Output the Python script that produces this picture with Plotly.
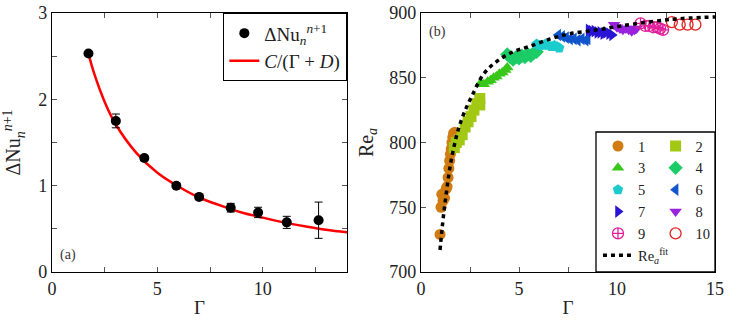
import plotly.graph_objects as go
from plotly.subplots import make_subplots

# ---- panel (a) data ----
gam_a = [1.73, 3.03, 4.38, 5.9, 6.98, 8.48, 9.78, 11.14, 12.65]
dnu = [2.53, 1.75, 1.32, 1.0, 0.87, 0.745, 0.69, 0.575, 0.60]
dnu_err = [0.02, 0.08, 0.03, 0.02, 0.02, 0.05, 0.06, 0.07, 0.21]

# fitted curve C/(Gamma + D)
fit_a_x = [1.73, 2.0, 2.5, 3.0, 4.0, 5.0, 6.0, 7.0, 8.0, 9.0, 10.0, 11.0, 12.0, 13.0, 14.0]
fit_a_y = [2.53, 2.30, 1.97, 1.72, 1.38, 1.15, 0.99, 0.86, 0.77, 0.69, 0.63, 0.575, 0.53, 0.49, 0.46]

# ---- panel (b) data ----
g1 = [0.97, 1.02, 1.06, 1.12, 1.2, 1.28, 1.33, 1.38, 1.42, 1.46, 1.5, 1.54, 1.58, 1.62, 1.66, 1.72, 1.8]
r1 = [729, 750, 760, 755, 757, 764, 766, 773, 780, 786, 791, 795, 800, 804, 807, 808, 806]
g2 = [1.7, 1.8, 1.95, 2.1, 2.25, 2.4, 2.55, 2.7, 2.85, 3.0, 3.0]
r2 = [796, 800, 802, 806, 812, 816, 820, 825, 830, 834, 829]
g3 = [3.05, 3.2, 3.4, 3.55, 3.7, 3.85, 4.0, 4.15, 4.3, 4.4]
r3 = [846, 845, 847, 848, 850, 851, 853, 854, 856, 858]
g4 = [4.4, 4.55, 4.7, 4.85, 5.0, 5.15, 5.3, 5.45, 5.6, 5.75, 5.9]
r4 = [868, 866, 864, 866, 865, 867, 866, 868, 867, 869, 870]
g5 = [5.9, 6.05, 6.2, 6.35, 6.5, 6.65, 6.8, 6.95, 7.05]
r5 = [876, 875, 875, 876, 875, 874, 875, 874, 873]
g6 = [7.0, 7.2, 7.4, 7.6, 7.8, 8.0, 8.2, 8.4, 8.5]
r6 = [883, 882, 881, 880, 880, 879, 880, 879, 880]
g7 = [8.55, 8.7, 8.85, 9.0, 9.15, 9.3, 9.45, 9.6, 9.75]
r7 = [887, 886, 886, 885, 885, 884, 885, 884, 883]
g8 = [9.85, 10.0, 10.15, 10.3, 10.45, 10.6, 10.75, 10.9, 11.0]
r8 = [891, 889, 888, 887, 888, 887, 886, 887, 888]
g9 = [11.2, 11.45, 11.65, 11.85, 12.05, 12.2, 12.35]
r9 = [892, 890, 890, 889, 889, 888, 887]
g10 = [12.8, 13.2, 13.6, 14.0]
r10 = [893, 891, 891, 891]

fit_b_x = [0.97, 1.05, 1.15, 1.3, 1.5, 1.7, 1.9, 2.2, 2.6, 3.2, 3.9, 4.7, 5.5, 6.6, 7.6, 9.0, 10.2, 12.7, 15]
fit_b_y = [717, 730, 744, 762, 783, 798, 810, 823, 836, 853, 863, 870, 874, 880, 884, 887, 890, 895, 897]

series_b = [
    ("1", g1, r1, "circle", "#d07c12"),
    ("2", g2, r2, "square", "#a3c814"),
    ("3", g3, r3, "triangle-up", "#38c61a"),
    ("4", g4, r4, "diamond", "#1ccc66"),
    ("5", g5, r5, "pentagon", "#1ccccc"),
    ("6", g6, r6, "triangle-left", "#1155cc"),
    ("7", g7, r7, "triangle-right", "#2a14d4"),
    ("8", g8, r8, "triangle-down", "#9922dd"),
    ("9", g9, r9, "circle-cross-open", "#e0209a"),
    ("10", g10, r10, "circle-open", "#e52222"),
]

FONT = "Liberation Serif"

fig = make_subplots(rows=1, cols=2, horizontal_spacing=0.11)

fig.add_trace(go.Scatter(x=fit_a_x, y=fit_a_y, mode="lines", line_shape="spline",
                         line=dict(color="#ff0000", width=2.5), legendrank=2,
                         name="<i>C</i>/(Γ + <i>D</i>)", legend="legend"),
              row=1, col=1)
fig.add_trace(go.Scatter(x=gam_a, y=dnu, mode="markers", legendrank=1,
                         marker=dict(color="black", size=10),
                         error_y=dict(type="data", array=dnu_err, color="black", thickness=1, width=4),
                         name="ΔNu<sub><i>n</i></sub><sup><i>n</i>+1</sup>", legend="legend"),
              row=1, col=1)

# two legend columns: odd entries left, even entries right
for i, (name, gx, ry, sym, col) in enumerate(series_b):
    open_sym = sym.endswith("open")
    fig.add_trace(go.Scatter(x=gx, y=ry, mode="markers", name=name,
                             legend="legend2" if i % 2 == 0 else "legend3",
                             marker=dict(symbol=sym, size=11, color=col,
                                         line=dict(color=col, width=1.3 if open_sym else 0))),
                  row=1, col=2)

fig.add_trace(go.Scatter(x=fit_b_x, y=fit_b_y, mode="lines", line_shape="spline",
                         line=dict(color="black", width=3.5, dash="4px,4px"),
                         name="Re<sub><i>a</i></sub><sup>fit</sup>", legend="legend2"),
              row=1, col=2)

axis_common = dict(showline=True, linecolor="black", linewidth=1.3, mirror="allticks",
                   ticks="inside", ticklen=5, tickcolor="#555", showgrid=False, zeroline=False,
                   automargin=False,
                   tickfont=dict(family=FONT, size=18, color="#222"))

fig.update_xaxes(axis_common)
fig.update_yaxes(axis_common)

minor_t = dict(ticks="inside", ticklen=5, tickcolor="#555")
fig.update_xaxes(range=[0, 14], tickvals=[0, 5, 10], minor=dict(dtick=2.5, **minor_t),
                 title=dict(text="Γ", font=dict(family=FONT, size=19), standoff=2), row=1, col=1)
fig.update_yaxes(range=[0, 3], tickvals=[0, 1, 2, 3], minor=dict(dtick=0.5, **minor_t),
                 title=dict(text="ΔNu<sub><i>n</i></sub><sup><i>n</i>+1</sup>", font=dict(family=FONT, size=20), standoff=14),
                 row=1, col=1)
fig.update_xaxes(range=[0, 15], tickvals=[0, 5, 10, 15], minor=dict(dtick=2.5, **minor_t),
                 title=dict(text="Γ", font=dict(family=FONT, size=19), standoff=2), row=1, col=2)
fig.update_yaxes(range=[700, 900], tickvals=[700, 750, 800, 850, 900],
                 title=dict(text="Re<sub><i>a</i></sub>", font=dict(family=FONT, size=20), standoff=10),
                 row=1, col=2)

leg_common = dict(bgcolor="rgba(0,0,0,0)", borderwidth=0, font=dict(family=FONT, size=14.5),
                  itemwidth=30, traceorder="normal", tracegroupgap=0)

fig.update_layout(
    width=731, height=320,
    margin=dict(l=52, r=16, t=13, b=48),
    plot_bgcolor="white", paper_bgcolor="white",
    font=dict(family=FONT, size=16, color="#222"),
    xaxis=dict(domain=[0, 0.445]),
    xaxis2=dict(domain=[0.5566, 1]),
    legend=dict(x=0.445, y=1.0, xanchor="right", yanchor="top", bordercolor="black", borderwidth=1.3,
                bgcolor="white", font=dict(family=FONT, size=19), tracegroupgap=0,
                itemwidth=30, traceorder="normal"),
    legend2=dict(x=0.8235, y=0.548, xanchor="left", yanchor="top", **leg_common),
    legend3=dict(x=0.9104, y=0.548, xanchor="left", yanchor="top", **leg_common),
    shapes=[dict(type="rect", xref="paper", yref="paper", x0=0.8205, x1=1.0, y0=0.0, y1=0.5405,
                 line=dict(color="black", width=1.3), fillcolor="white", layer="above")],
    annotations=[
        dict(text="(a)", xref="x", yref="y", x=0.3, y=0.2, xanchor="left", yanchor="middle",
             showarrow=False, font=dict(family=FONT, size=14, color="#333")),
        dict(text="(b)", xref="x2", yref="y2", x=0.3, y=885, xanchor="left", yanchor="middle",
             showarrow=False, font=dict(family=FONT, size=14, color="#333")),
    ],
)

# drop the page's default body margin so the figure sits at the window corner
fig.write_html("out.html", config={"displayModeBar": False},
               post_script="document.body.style.margin='0';")
